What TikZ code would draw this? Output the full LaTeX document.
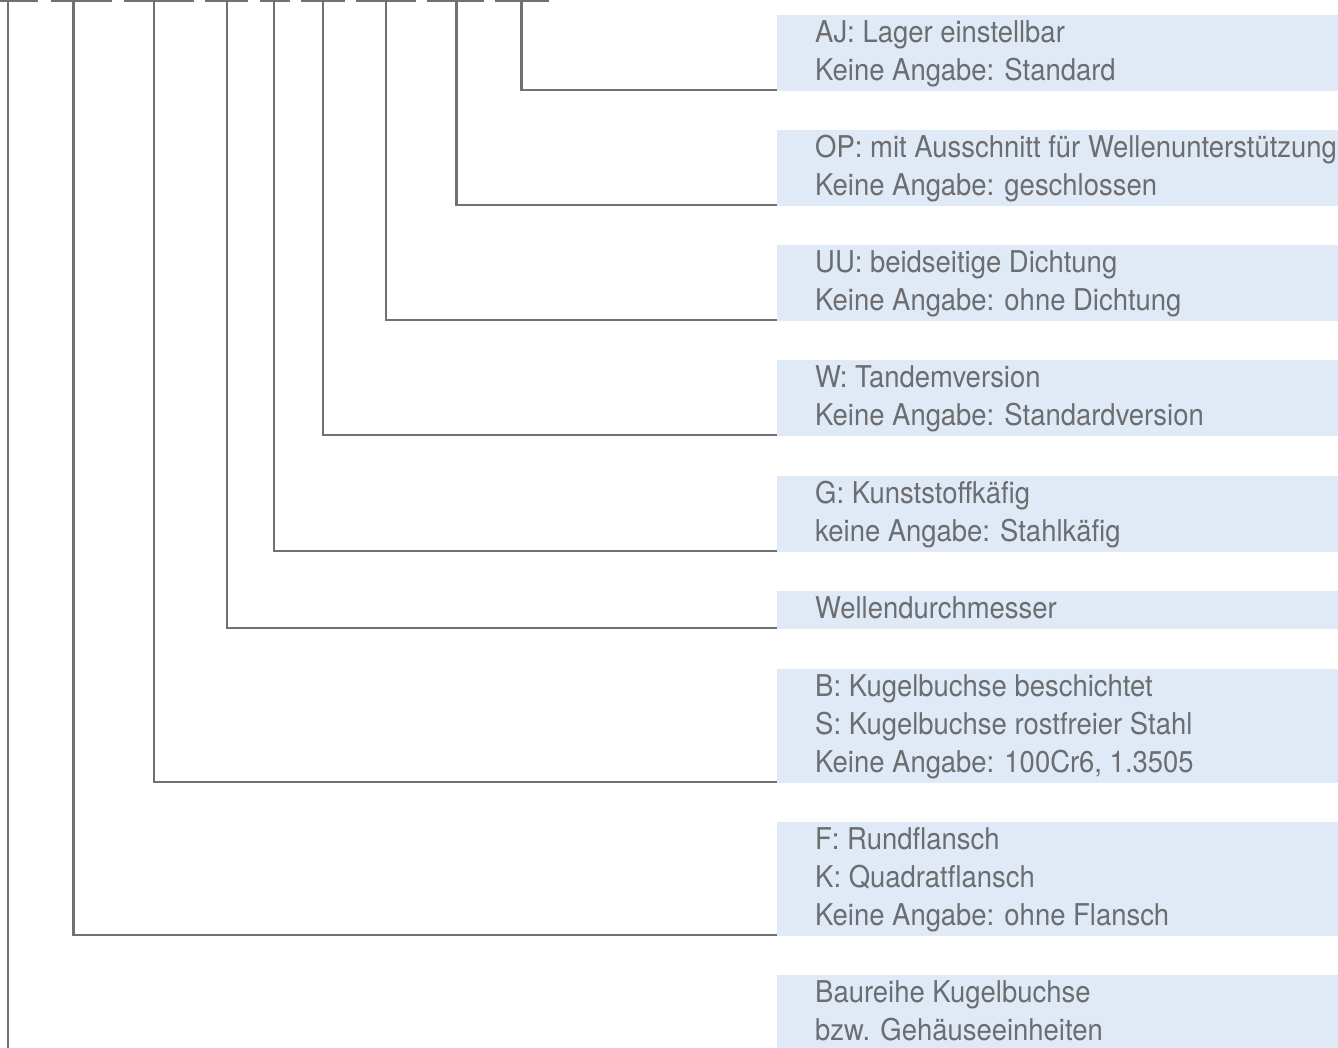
\documentclass[tikz,border=0pt]{standalone}
\usepackage{fontspec}
\setmainfont{TeX Gyre Heros}[FakeStretch=0.915]
\definecolor{linegray}{RGB}{112,113,115}
\definecolor{txtgray}{RGB}{108,109,112}
\definecolor{boxblue}{RGB}{224,234,246}
\begin{document}
\begin{tikzpicture}[x=1pt,y=-1pt,
  box/.style={draw=none,fill=boxblue,rectangle,minimum width=561pt,inner sep=0pt,anchor=north west},
  box2/.style={box,minimum height=76pt},
  box1/.style={box,minimum height=38pt},
  box3/.style={box,minimum height=114pt},
  txt/.style={anchor=base west,inner sep=0pt,text=txtgray,font=\fontsize{30}{38}\selectfont},
  conn/.style={draw=linegray,line width=2.3pt},
  dashseg/.style={draw=linegray,line width=2.4pt}]
\clip (0,0) rectangle (1338,1047);
% top segments
\foreach \a/\b in {0/38,51/112,124/194,205/248,260/290,301/345,356/416,427/484,495/549}
  \draw[dashseg] (\a,1) -- (\b,1);
% top coordinates of connectors
\coordinate (t1) at (521.5,0);
\coordinate (t2) at (456.6,0);
\coordinate (t3) at (386,0);
\coordinate (t4) at (323,0);
\coordinate (t5) at (274,0);
\coordinate (t6) at (227,0);
\coordinate (t7) at (154,0);
\coordinate (t8) at (73.6,0);
\coordinate (t9) at (8,0);
% boxes
\node[box2] (b1) at (777,15) {};
\node[box2] (b2) at (777,130) {};
\node[box2] (b3) at (777,245) {};
\node[box2] (b4) at (777,360) {};
\node[box2] (b5) at (777,476) {};
\node[box1] (b6) at (777,591) {};
\node[box3] (b7) at (777,669) {};
\node[box3] (b8) at (777,822) {};
\node[box2] (b9) at (777,975) {};
% texts
\node[txt] (l1a) at (815,42) {AJ: Lager einstellbar};
\node[txt] (l1b) at (815,80) {Keine Angabe: Standard};
\node[txt] (l2a) at (815,157) {OP: mit Ausschnitt für Wellenunterstützung};
\node[txt] (l2b) at (815,195) {Keine Angabe: geschlossen};
\node[txt] (l3a) at (815,272) {UU: beidseitige Dichtung};
\node[txt] (l3b) at (815,310) {Keine Angabe: ohne Dichtung};
\node[txt] (l4a) at (815,387) {W: Tandemversion};
\node[txt] (l4b) at (815,425) {Keine Angabe: Standardversion};
\node[txt] (l5a) at (815,503) {G: Kunststoffkäfig};
\node[txt] (l5b) at (815,541) {keine Angabe: Stahlkäfig};
\node[txt] (l6a) at (815,618) {Wellendurchmesser};
\node[txt] (l7a) at (815,696) {B: Kugelbuchse beschichtet};
\node[txt] (l7b) at (815,734) {S: Kugelbuchse rostfreier Stahl};
\node[txt] (l7c) at (815,772) {Keine Angabe: 100Cr6, 1.3505};
\node[txt] (l8a) at (815,849) {F: Rundflansch};
\node[txt] (l8b) at (815,887) {K: Quadratflansch};
\node[txt] (l8c) at (815,925) {Keine Angabe: ohne Flansch};
\node[txt] (l9a) at (815,1002) {Baureihe Kugelbuchse};
\node[txt] (l9b) at (815,1040) {bzw. Gehäuseeinheiten};
% connectors
\foreach \i in {1,...,9}
  \draw[conn] (t\i) |- ([yshift=1.2pt]b\i.south west);
\end{tikzpicture}
\end{document}
